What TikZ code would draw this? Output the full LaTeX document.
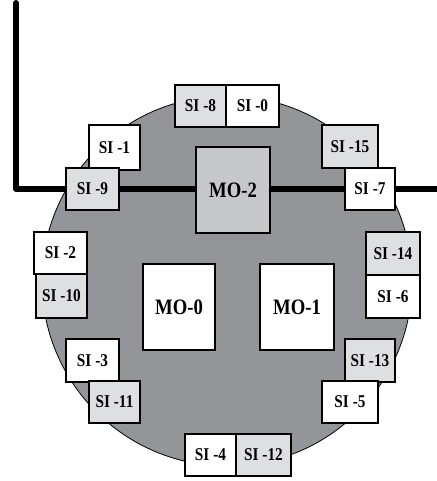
\documentclass[tikz,border=0pt]{standalone}
\usepackage{fontspec}
\newfontfamily\labfont[FakeStretch=0.85]{Liberation Serif}
\definecolor{disc}{RGB}{147,149,152}
\definecolor{lite}{RGB}{222,223,225}
\definecolor{mid}{RGB}{199,200,202}
\begin{document}
\begin{tikzpicture}[x=1pt,y=-1pt,
  box/.style={draw=black,line width=1.1pt,inner sep=0pt,minimum height=42pt,
    font=\labfont\bfseries\fontsize{18}{18}\selectfont},
  wbox/.style={box,fill=white},
  gbox/.style={box,fill=lite},
  mobox/.style={draw=black,line width=1.1pt,inner sep=0pt,minimum width=73pt,minimum height=86pt,
    font=\labfont\bfseries\fontsize{22}{22}\selectfont},
  bus/.style={line width=6pt,line cap=round,line join=round}]
\useasboundingbox (0,0) rectangle (436,481);
\node[circle,draw=black,line width=0.8pt,fill=disc,minimum size=370pt,inner sep=0pt] (disc) at (227,281) {};
\coordinate (bt) at (16,3);
\coordinate (bc) at (16,189);
\coordinate (br) at (440,189);
\draw[bus] (bt) -- (bc) -- (br);
\node[gbox,minimum width=51pt] (si8) at (200.5,106) {SI -8};
\node[wbox,minimum width=53pt] (si0) at (252.5,106) {SI -0};
\node[wbox,minimum width=51pt,minimum height=45pt] (si1) at (114.5,147.5) {SI -1};
\node[gbox,minimum width=53pt] (si9) at (92.5,189) {SI -9};
\node[mobox,fill=mid,minimum width=74pt] (mo2) at (233,190) {MO-2};
\node[gbox,minimum width=56pt,minimum height=43pt] (si15) at (350,146.5) {SI -15};
\node[wbox,minimum width=50pt] (si7) at (370,189) {SI -7};
\node[wbox,minimum width=53pt] (si2) at (60.5,253) {SI -2};
\node[gbox,minimum width=51pt,minimum height=44pt] (si10) at (61.5,296) {SI -10};
\node[mobox,fill=white,minimum width=72pt] (mo0) at (179,307) {MO-0};
\node[mobox,fill=white,minimum width=74pt] (mo1) at (297,307) {MO-1};
\node[gbox,minimum width=54pt,minimum height=43pt] (si14) at (393,253.5) {SI -14};
\node[wbox,minimum width=54pt,minimum height=43pt] (si6) at (393,296.5) {SI -6};
\node[wbox,minimum width=53pt,minimum height=43pt] (si3) at (92.5,360.5) {SI -3};
\node[gbox,minimum width=51pt] (si11) at (114.5,402) {SI -11};
\node[gbox,minimum width=50pt,minimum height=43pt] (si13) at (370,360.5) {SI -13};
\node[wbox,minimum width=56pt] (si5) at (350,402) {SI -5};
\node[wbox,minimum width=51pt] (si4) at (210.5,455) {SI -4};
\node[gbox,minimum width=55pt] (si12) at (263.5,455) {SI -12};
\end{tikzpicture}
\end{document}
